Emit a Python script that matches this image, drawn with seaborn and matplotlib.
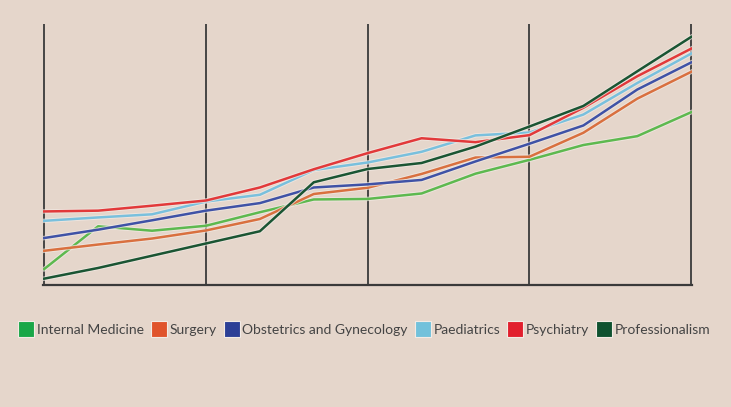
import pandas as pd
import numpy as np
import matplotlib.pyplot as plt
import matplotlib.patheffects as pe
from matplotlib.lines import Line2D
import seaborn as sns

# Values (flattened to the chart frame, 0-100 of axis height)
steps = list(range(13))
internal_medicine = [6.1, 22.5, 20.8, 22.7, 27.9, 32.8, 33.0, 35.1, 42.7, 48.0, 53.7, 57.1, 66.3]
surgery = [13.1, 15.5, 17.8, 20.9, 25.3, 34.9, 37.3, 42.6, 48.9, 49.2, 58.4, 71.5, 81.8]
obstetrics = [18.0, 21.2, 24.8, 28.5, 31.4, 37.4, 38.6, 40.3, 47.4, 54.2, 61.2, 75.0, 85.4]
paediatrics = [24.6, 25.9, 27.1, 32.0, 34.6, 44.1, 47.0, 51.1, 57.4, 58.5, 65.4, 77.5, 88.8]
psychiatry = [28.2, 28.5, 30.4, 32.4, 37.4, 44.4, 50.6, 56.3, 54.8, 57.5, 68.0, 80.1, 90.7]
professionalism = [2.4, 6.5, 11.2, 15.9, 20.6, 39.4, 44.5, 46.8, 53.1, 60.8, 68.7, 82.0, 95.2]

series_names = ["Internal Medicine", "Surgery", "Obstetrics and Gynecology",
                "Paediatrics", "Psychiatry", "Professionalism"]
series_values = [internal_medicine, surgery, obstetrics,
                 paediatrics, psychiatry, professionalism]
dividers = [0, 3, 6, 9, 12]

line_colors = ["#5db94f", "#d9703f", "#3f52a6", "#79c0dd", "#e2393a", "#1a5533"]
legend_colors = ["#1aa748", "#e0542c", "#2c3f96", "#72c1db", "#e21f2d", "#0f5230"]

# long format for seaborn
df = pd.DataFrame({
    "step": steps * len(series_names),
    "value": [v for vals in series_values for v in vals],
    "specialty": [n for n in series_names for _ in steps],
})

bg = "#e5d6cb"
fig = plt.figure(figsize=(7.31, 4.07), dpi=100, facecolor=bg)
ax = fig.add_axes([0.059, 0.30, 0.888, 0.64])
ax.set_facecolor(bg)

# divider lines
for d in dividers:
    ax.axvline(d, color="#3a3a3a", lw=1.3, zorder=1)

sns.lineplot(data=df, x="step", y="value", hue="specialty",
             hue_order=series_names, palette=line_colors,
             lw=1.8, legend=False, ax=ax, zorder=3)
for line in ax.get_lines()[len(dividers):]:
    line.set_path_effects([pe.Stroke(linewidth=3.2, foreground="#f3ebe5", alpha=0.7),
                           pe.Normal()])

ax.set_xlim(-0.02, 12.02)
ax.set_ylim(0, 100)
for s in ["top", "right", "left"]:
    ax.spines[s].set_visible(False)
ax.spines["bottom"].set_color("#3a3a3a")
ax.spines["bottom"].set_linewidth(1.6)
ax.set_xticks([])
ax.set_yticks([])
ax.set_xlabel("")
ax.set_ylabel("")

# legend with square swatches
handles = [Line2D([], [], marker="s", ls="none", markersize=12,
                  markerfacecolor=c, markeredgecolor="#f3ebe5", markeredgewidth=0.8)
           for c in legend_colors]
leg = fig.legend(handles, series_names, loc="center", bbox_to_anchor=(0.5, 0.19),
                 ncol=6, frameon=False, handlelength=0.8, handletextpad=0.35,
                 columnspacing=0.7, prop={"family": ["Lato", "DejaVu Sans"],
                                          "size": 10})
for t in leg.get_texts():
    t.set_color("#444444")

fig.savefig("out.png", dpi=100, facecolor=bg)
